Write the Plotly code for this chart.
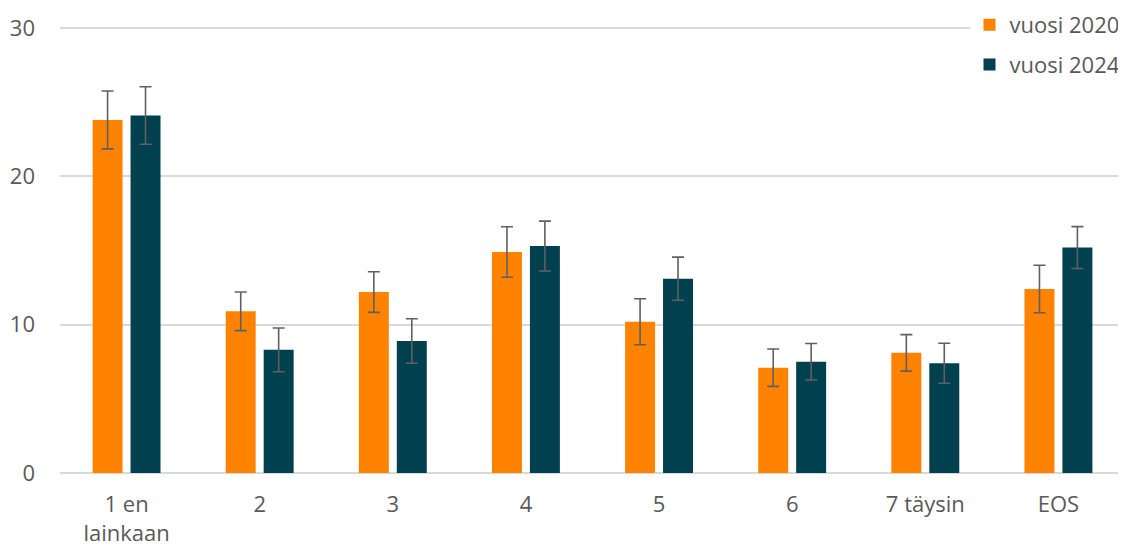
import plotly.graph_objects as go

categories = ["1 en<br>lainkaan", "2", "3", "4", "5", "6", "7 täysin", "EOS"]
v2020 = [23.8, 10.9, 12.2, 14.9, 10.2, 7.1, 8.1, 12.4]
e2020 = [1.95, 1.3, 1.37, 1.7, 1.55, 1.26, 1.23, 1.6]
v2024 = [24.1, 8.3, 8.9, 15.3, 13.1, 7.5, 7.4, 15.2]
e2024 = [1.94, 1.47, 1.5, 1.68, 1.45, 1.23, 1.35, 1.41]
yticks = [0, 10, 20, 30]

err_style = dict(type="data", visible=True, color="#606060", thickness=1.6, width=6)

fig = go.Figure()
fig.add_trace(go.Bar(
    name="vuosi 2020", x=categories, y=v2020,
    error_y=dict(array=e2020, **err_style),
    marker=dict(color="#FF8300", line=dict(width=0)),
    legendgroup="a",
))
fig.add_trace(go.Bar(
    name="vuosi 2024", x=categories, y=v2024,
    error_y=dict(array=e2024, **err_style),
    marker=dict(color="#00404F", line=dict(width=0)),
    legendgroup="b",
))

fig.update_layout(
    width=1118, height=548,
    margin=dict(l=52, r=1, t=17, b=83, autoexpand=False),
    paper_bgcolor="white", plot_bgcolor="white",
    font=dict(family="Open Sans, Noto Sans, sans-serif", size=22, color="#595959"),
    barmode="group", bargap=0.43, bargroupgap=0.21,
    showlegend=True,
    legend=dict(
        x=0.854, y=1.0469, xanchor="left", yanchor="top",
        bgcolor="white", font=dict(size=22, color="#595959"),
        tracegroupgap=8, traceorder="grouped",
        itemwidth=30,
    ),
    xaxis=dict(showgrid=False, showline=False, ticks="", ticklabelstandoff=16),
    yaxis=dict(
        range=[0, 30.2], tickvals=yticks, showgrid=True, gridcolor="#D9D9D9",
        gridwidth=1.5, zeroline=True, zerolinecolor="#D9D9D9", zerolinewidth=1.5,
        showline=False, ticks="", ticklabelstandoff=24,
    ),
)

fig.write_html("out.html")
